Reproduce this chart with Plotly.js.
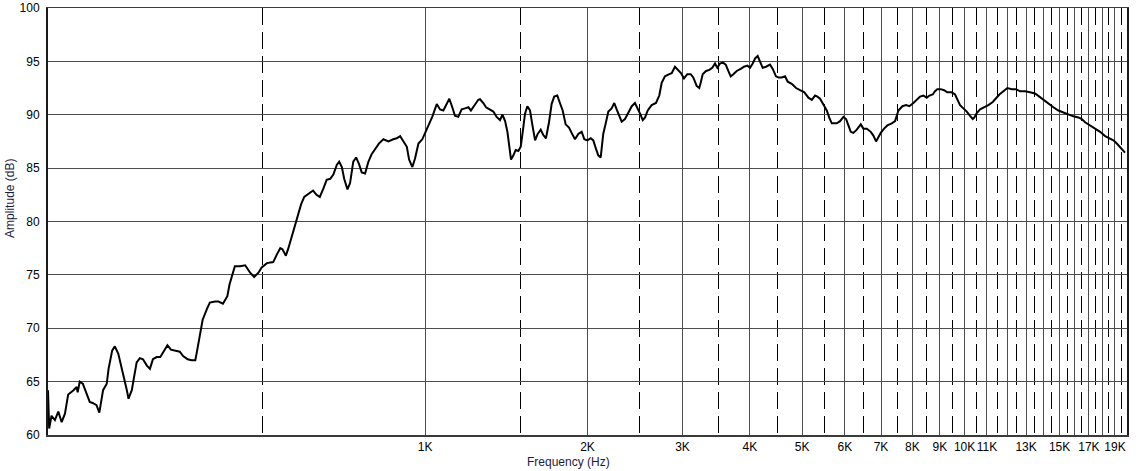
<!DOCTYPE html>
<html>
<head>
<meta charset="utf-8">
<script src="https://cdn.plot.ly/plotly-3.0.1.min.js"></script>
<style>
html,body{margin:0;padding:0;background:#ffffff;}
#chart{width:1136px;height:471px;}
</style>
</head>
<body>
<div id="chart"></div>
<script>
// Frequency response samples (Hz, dB)
const freqHz = [
200,201,203,206,209,212,215,218,223,226,227,229,232,236,239,242,246,249,253,257,
259,263,266,270,274,278,280,282,286,288,292,296,300,305,309,313,318,323,327,333,
338,344,351,356,363,369,375,377,383,387,394,399,408,414,422,430,434,440,444,454,
464,474,482,
491,498,509,523,531,539,544,552,558,564,572,580,589,597,607,620,629,638,648,657,
667,676,686,693,701,708,718,726,736,745,754,763,774,785,796,810,821,837,855,873,
886,899,911,925,934,947,958,972,988,1002,1017,1031,1051,1066,1081,1096,1109,1123,1136,1152,
1169,1186,1203,1216,1237,1255,
1264,1282,1297,1319,1338,1357,1377,1391,1407,1421,1433,1443,1458,1472,1489,1504,1517,1532,1547,1565,
1580,1599,1617,1638,1656,1675,1697,1716,1735,1758,1778,1799,1822,1848,1869,1896,1923,1951,1973,1999,
2028,2050,2074,2094,2116,2139,2164,2186,2217,2242,2265,2291,2314,2347,2381,2416,2449,2474,2503,2532,
2557,2586,2630,2679,2717,2745,2784,2835,2865,2905,2946,2980,3019,3062,3107,3141,3187,3222,
3242,3270,3317,3364,3407,3446,3481,3521,3561,3608,3648,3685,3727,3781,3846,3901,3956,4002,4048,4093,
4135,4176,4224,4285,4358,4409,4471,4516,4582,4647,4701,4782,4871,4955,5047,5134,5209,5283,5336,5397,
5474,5553,5615,5673,5795,5877,5962,6030,6090,6152,6221,6312,6421,6492,6587,6700,6775,6853,6921,6992,
7092,7193,7329,7433,7539,7669,7790,7900,8037,8210,
8270,8387,8508,8604,8728,8815,8902,9032,9160,9290,9465,9601,9696,9808,9947,10093,10236,10355,10427,10533,
10683,10866,11068,11277,11438,11600,11800,12002,12231,12458,12672,12944,13224,13510,13758,13998,14298,14607,14923,15246,
15573,15910,16254,16492,16725,17084,17454,17832,18214,18553,18872,19148,19478,19830
];
const amplitudeDb = [
64.2,60.6,61.8,61.4,62.2,61.2,62.0,63.8,64.2,64.5,64.0,65.0,64.8,63.8,63.1,63.0,62.8,62.1,64.2,64.8,
66.2,67.9,68.3,67.6,66.3,65.1,64.2,63.4,64.2,65.1,66.8,67.2,67.1,66.5,66.2,67.1,67.3,67.3,67.7,68.4,
68.0,67.9,67.8,67.4,67.1,67.0,67.0,67.6,69.7,70.8,71.8,72.4,72.5,72.5,72.3,73.0,74.1,75.2,75.8,75.8,
75.9,75.2,74.8,
75.2,75.7,76.1,76.2,76.9,77.5,77.4,76.8,77.5,78.3,79.4,80.3,81.6,82.3,82.6,82.9,82.5,82.3,83.1,83.9,
84.0,84.4,85.3,85.6,85.1,84.0,83.0,83.6,85.6,86.0,85.4,84.6,84.5,85.6,86.3,86.8,87.3,87.7,87.5,87.7,
87.8,88.0,87.5,87.0,85.8,85.1,85.9,87.3,87.7,88.4,89.1,89.8,91.0,90.5,90.4,91.0,91.5,90.7,89.9,89.8,
90.5,90.6,90.7,90.4,91.0,91.4,
91.45,91.1,90.7,90.5,90.3,89.8,89.5,90.0,89.4,88.4,86.8,85.8,86.2,86.7,86.6,87.0,88.4,90.1,90.8,90.4,
89.1,87.6,88.2,88.6,88.1,87.8,89.3,91.0,91.7,91.8,91.1,90.4,89.1,88.8,88.3,87.7,88.2,88.4,87.7,87.6,
87.8,87.6,86.8,86.2,86.0,88.2,89.3,90.3,90.6,91.1,90.5,89.9,89.35,89.6,90.2,90.8,91.1,90.7,90.1,89.5,
89.75,90.4,90.9,91.1,91.8,93.0,93.6,93.8,93.9,94.5,94.2,93.9,93.4,93.8,93.8,93.5,92.7,92.5,
93.0,93.8,94.1,94.2,94.4,94.8,94.4,94.8,94.9,94.7,94.1,93.6,93.8,94.1,94.3,94.5,94.6,94.4,94.8,95.3,
95.5,95.0,94.4,94.5,94.7,94.3,93.6,93.5,93.5,93.6,93.1,92.9,92.5,92.3,92.1,91.6,91.4,91.8,91.7,91.5,
91.0,90.4,89.7,89.2,89.2,89.4,89.8,89.6,89.0,88.4,88.3,88.6,89.1,88.7,88.7,88.4,88.05,87.5,87.9,88.3,
88.7,89.0,89.2,89.4,90.4,90.8,90.9,90.8,91.1,91.5,
91.7,91.8,91.6,91.8,91.9,92.2,92.4,92.4,92.3,92.1,92.1,91.9,91.45,90.9,90.6,90.3,89.9,89.6,89.75,90.15,
90.5,90.7,90.9,91.2,91.6,91.9,92.2,92.5,92.4,92.4,92.2,92.2,92.1,92.0,91.7,91.4,91.1,90.7,90.4,90.2,
90.0,89.85,89.75,89.6,89.3,89.0,88.7,88.4,88.0,87.8,87.6,87.3,86.9,86.45
];

// Axis ticks / grid
const majorGridHz = [1000,2000,3000,4000,5000,6000,7000,8000,9000,10000,11000,12000,13000,14000,15000,16000,17000,18000,19000,20000];
const majorTickText = ['1K','2K','3K','4K','5K','6K','7K','8K','9K','10K','11K','','13K','','15K','','17K','','19K',''];
const halfGridHz = [500,1500,2500,3500,4500,5500,6500,7500,8500,9500,10500,11500,12500,13500,14500,15500,16500,17500,18500,19500];
const yTickVals = [60,65,70,75,80,85,90,95,100];
const xRangeHz = [200, 20000];
const yRangeDb = [60, 100];

const trace = {
  x: freqHz, y: amplitudeDb, type: 'scatter', mode: 'lines',
  line: {color: '#000000', width: 2}, hoverinfo: 'skip'
};

const layout = {
  width: 1136, height: 471,
  margin: {l: 48, r: 9, t: 8, b: 36, pad: 0},
  paper_bgcolor: '#ffffff', plot_bgcolor: '#ffffff',
  showlegend: false,
  font: {family: 'Liberation Sans, Arial, sans-serif', size: 12, color: '#000000'},
  xaxis: {
    type: 'log',
    range: [Math.log10(xRangeHz[0]), Math.log10(xRangeHz[1])],
    tickmode: 'array', tickvals: majorGridHz, ticktext: majorTickText,
    tickangle: 0, ticklabeloverflow: 'allow',
    showgrid: true, gridcolor: '#4d4d4d', gridwidth: 1,
    ticks: '',
    showline: true, mirror: true, linecolor: '#3a3a3a', linewidth: 1.5,
    zeroline: false, tickfont: {size: 12, color: '#000000'},
    minor: {tickmode: 'array', tickvals: halfGridHz, showgrid: true, gridcolor: '#000000', gridwidth: 1, griddash: '17px,7px', ticks: ''}
  },
  yaxis: {
    range: yRangeDb,
    tickmode: 'array', tickvals: yTickVals, ticklabeloverflow: 'allow',
    showgrid: true, gridcolor: '#4d4d4d', gridwidth: 1,
    ticks: 'outside', ticklen: 4, tickcolor: 'rgba(0,0,0,0)',
    showline: true, mirror: true, linecolor: '#1a1a1a', linewidth: 2,
    zeroline: false, tickfont: {size: 12, color: '#000000'}
  },
  annotations: [
    {text: 'Frequency (Hz)', xref: 'paper', yref: 'paper', x: 0.482, y: -0.063,
     xanchor: 'center', yanchor: 'middle', showarrow: false,
     font: {size: 12, color: '#1c1c40'}},
    {text: 'Amplitude (dB)', xref: 'paper', yref: 'paper', x: -0.0352, y: 0.553,
     xanchor: 'center', yanchor: 'middle', showarrow: false, textangle: -90,
     font: {size: 12, color: '#1c1c40'}}
  ]
};

Plotly.newPlot('chart', [trace], layout, {staticPlot: true, displayModeBar: false});
</script>
</body>
</html>
